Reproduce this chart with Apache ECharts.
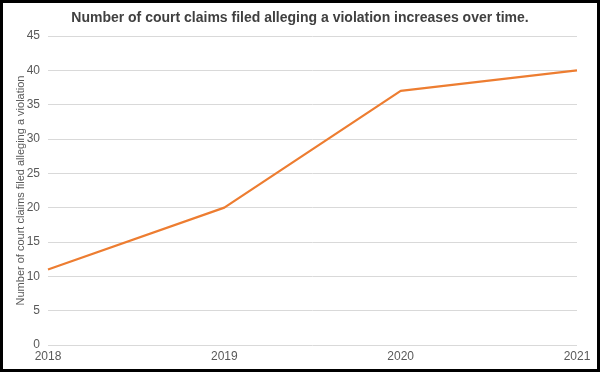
<!DOCTYPE html>
<html><head><meta charset="utf-8">
<script src="https://cdn.jsdelivr.net/npm/echarts@6/dist/echarts.min.js"></script>
<style>
html,body{margin:0;padding:0;background:#fff;}
#c{position:absolute;left:0;top:0;width:600px;height:372px;}
#frame{position:absolute;left:0;top:0;width:600px;height:372px;box-sizing:border-box;border:3px solid #000;pointer-events:none;}
</style></head>
<body><div id="c"></div><div id="frame"></div>
<script>
const categories = ['2018','2019','2020','2021'];
const claims = [11, 20, 37, 40];
const titleText = 'Number of court claims filed alleging a violation increases over time.';
const yAxisName = 'Number of court claims filed alleging a violation';

const chart = echarts.init(document.getElementById('c'), null, {renderer:'canvas'});
chart.setOption({
  animation:false,
  title:{text:titleText,left:'center',top:6,textStyle:{fontFamily:'Liberation Sans, Arial',fontSize:14,fontWeight:'bold',color:'#404040'}},
  grid:{left:48,right:23,top:36,bottom:27,containLabel:false},
  xAxis:{type:'category',data:categories,boundaryGap:false,
    axisLine:{show:false},axisTick:{show:false},
    axisLabel:{color:'#595959',fontFamily:'Liberation Sans, Arial',fontSize:12,margin:6}},
  yAxis:{type:'value',min:0,max:45,interval:5,
    name:yAxisName,nameLocation:'middle',nameGap:22,nameRotate:90,nameMoveOverlap:false,
    nameTextStyle:{color:'#595959',fontFamily:'Liberation Sans, Arial',fontSize:11},
    axisLine:{show:false},axisTick:{show:false},
    axisLabel:{color:'#595959',fontFamily:'Liberation Sans, Arial',fontSize:12,margin:8},
    splitLine:{lineStyle:{color:'#d9d9d9',width:1}}},
  series:[{type:'line',data:claims,symbol:'none',lineStyle:{color:'#ed7d31',width:2.25},itemStyle:{color:'#ed7d31'}}]
});
</script></body></html>
